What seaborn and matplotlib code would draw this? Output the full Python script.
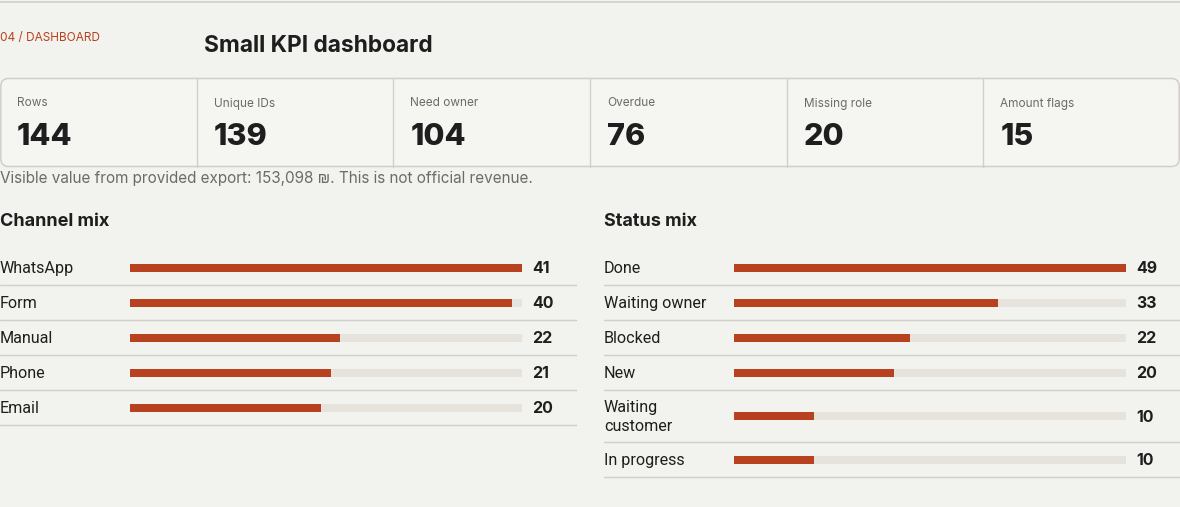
import matplotlib
matplotlib.use("Agg")
import matplotlib.pyplot as plt
from matplotlib.patches import FancyBboxPatch
import seaborn as sns
import pandas as pd

# ---------------- data ----------------
kpi_labels = ["Rows", "Unique IDs", "Need owner", "Overdue", "Missing role", "Amount flags"]
kpi_values = [144, 139, 104, 76, 20, 15]

channel_names = ["WhatsApp", "Form", "Manual", "Phone", "Email"]
channel_counts = [41, 40, 22, 21, 20]

status_names = ["Done", "Waiting owner", "Blocked", "New", "Waiting\ncustomer", "In progress"]
status_counts = [49, 33, 22, 20, 10, 10]

kicker = "04 / DASHBOARD"
title = "Small KPI dashboard"
note = "Visible value from provided export: 153,098 \u20aa. This is not official revenue."

# ---------------- style ----------------
sns.set_theme(style="white")
plt.rcParams["font.family"] = ["Inter", "DejaVu Sans"]
LABEL_FONT = ["Roboto", "DejaVu Sans"]

BG = "#f2f2ee"
CARD = "#f5f5f2"
LINE = "#d2cfc8"
ACCENT = "#b8411f"
TRACK = "#e6e2dc"
INK = "#1e1e1e"
MUTED = "#6b6b6b"

W, H = 1180, 507
fig = plt.figure(figsize=(W / 100, H / 100), dpi=100, facecolor=BG)
bg = fig.add_axes([0, 0, 1, 1])
bg.set_xlim(0, W)
bg.set_ylim(H, 0)
bg.axis("off")
bg.set_facecolor(BG)

# top rule
bg.plot([0, W], [1.5, 1.5], color=LINE, lw=1.2)

# header
bg.text(0, 38, kicker, color=ACCENT, fontsize=8.5, va="center", ha="left")
bg.text(204, 46, title, color=INK, fontsize=16.4, fontweight="bold", va="center", ha="left")

# KPI cards
card_top, card_bot = 78.5, 166.5
box = FancyBboxPatch((0.8, card_top), W - 1.6, card_bot - card_top,
                     boxstyle="round,pad=0,rounding_size=8",
                     facecolor=CARD, edgecolor=LINE, lw=1.1)
bg.add_patch(box)
cw = W / len(kpi_labels)
for i, (lab, val) in enumerate(zip(kpi_labels, kpi_values)):
    x0 = i * cw
    if i > 0:
        bg.plot([x0, x0], [card_top, card_bot], color=LINE, lw=1)
    bg.text(x0 + 17, 103.5, lab, color=MUTED, fontsize=8.5, va="center", ha="left")
    bg.text(x0 + 17, 137, str(val), color=INK, fontsize=22, fontweight="heavy",
            va="center", ha="left")

bg.text(0, 178, note, color=MUTED, fontsize=11, va="center", ha="left")


def panel(x0, x1, track_x0, track_x1, heading, names, counts):
    bg.text(x0, 222, heading, color=INK, fontsize=13, fontweight="bold",
            va="center", ha="left")
    top = 250
    centers = []
    for name in names:
        nlines = name.count("\n") + 1
        h = 35 + 17 * (nlines - 1)
        c = top + h / 2
        centers.append(c)
        bg.text(x0, c + 1, name, color=INK, fontsize=11.6, va="center", ha="left",
                linespacing=1.3, family=LABEL_FONT)
        top += h
        bg.plot([x0, x1], [top, top], color=LINE, lw=1)
    vmax = max(counts)
    ax = fig.add_axes([track_x0 / W, 0, (track_x1 - track_x0) / W, 1])
    df = pd.DataFrame({"name": names, "count": counts, "pos": centers,
                       "full": [vmax] * len(counts)})
    wunit = 8 / 35
    sns.barplot(data=df, x="full", y="pos", orient="h", native_scale=True,
                color=TRACK, saturation=1, width=wunit, ax=ax, errorbar=None,
                linewidth=0)
    sns.barplot(data=df, x="count", y="pos", orient="h", native_scale=True,
                color=ACCENT, saturation=1, width=wunit, ax=ax, errorbar=None,
                linewidth=0)
    ax.set_xlim(0, vmax)
    ax.set_ylim(H, 0)
    ax.axis("off")
    ax.patch.set_alpha(0)
    for c, v in zip(centers, counts):
        bg.text(track_x1 + 10, c + 1, str(v), color=INK, fontsize=11.5, fontweight="bold",
                va="center", ha="left")


panel(0, 576, 130, 522, "Channel mix", channel_names, channel_counts)
panel(604, 1180, 734, 1126, "Status mix", status_names, status_counts)

fig.savefig("out.png", dpi=100, facecolor=BG)
